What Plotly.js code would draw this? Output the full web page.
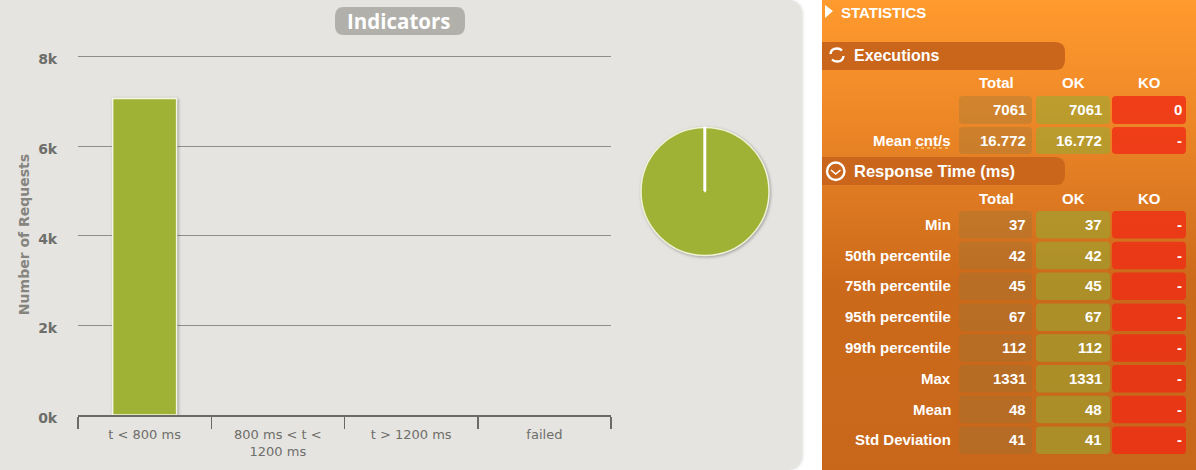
<!DOCTYPE html>
<html><head><meta charset="utf-8">
<script src="https://cdn.plot.ly/plotly-3.0.1.min.js"></script>
<style>
html,body{margin:0;padding:0;width:1196px;height:470px;overflow:hidden;background:#fff}
#left{position:absolute;left:0;top:0;width:802px;height:470px;background:#e5e4e0;border-radius:0 14px 14px 0;box-shadow:1px 0 3px rgba(0,0,0,.12)}
#right{position:absolute;left:822px;top:0;width:374px;height:470px;background:linear-gradient(#ff9a2e 0,#f08a28 22%,#cc6a1b 60%,#c8661a 100%)}
#chart{position:absolute;left:0;top:0;width:1196px;height:470px}
.barlayer .point path{filter:drop-shadow(1.5px 1.5px 1.5px rgba(0,0,0,.35))}
.pielayer .trace{filter:drop-shadow(1.5px 1.5px 1.5px rgba(0,0,0,.3))}
</style></head><body>
<div id="left"></div><div id="right"></div><div id="chart"></div>
<script>
const W=1196,H=470;
const categories=['t < 800 ms','800 ms < t <<br>1200 ms','t > 1200 ms','failed'];
const requests=[7061,0,0,0];
const yTicks=[0,2000,4000,6000,8000];
const yTickLabels=['0k','2k','4k','6k','8k'];
const pieLabels=['t < 800 ms','800 ms < t < 1200 ms','t > 1200 ms','failed'];
const columns=['Total','OK','KO'];
const execLabels=['','Mean cnt/s'];
const execTotal=['7061','16.772'];
const execOK=['7061','16.772'];
const execKO=['0','-'];
const timeLabels=['Min','50th percentile','75th percentile','95th percentile','99th percentile','Max','Mean','Std Deviation'];
const timeTotal=['37','42','45','67','112','1331','48','41'];
const timeOK=['37','42','45','67','112','1331','48','41'];
const timeKO=['-','-','-','-','-','-','-','-'];

const fx=x=>x/W, fy=y=>1-y/H;
const P=(x,y)=>fx(x)+' '+fy(y);
function rr(x0,y0,x1,y1,r){return 'M'+P(x0+r,y0)+' L'+P(x1-r,y0)+' Q'+P(x1,y0)+' '+P(x1,y0+r)+' L'+P(x1,y1-r)+' Q'+P(x1,y1)+' '+P(x1-r,y1)+' L'+P(x0+r,y1)+' Q'+P(x0,y1)+' '+P(x0,y1-r)+' L'+P(x0,y0+r)+' Q'+P(x0,y0)+' '+P(x0+r,y0)+' Z';}
function rightPill(x0,y0,x1,y1,r){return 'M'+P(x0,y0)+' L'+P(x1-r,y0)+' Q'+P(x1,y0)+' '+P(x1,y0+r)+' L'+P(x1,y1-r)+' Q'+P(x1,y1)+' '+P(x1-r,y1)+' L'+P(x0,y1)+' Z';}
const shapes=[],ann=[];
const base={xref:'paper',yref:'paper'};
const fillShape=(path,color)=>shapes.push({...base,type:'path',path,fillcolor:color,line:{width:0},layer:'below'});
const text=(x,y,t,size,anchor,color,family)=>ann.push({...base,x:fx(x),y:fy(y),text:t,showarrow:false,xanchor:anchor,yanchor:'middle',borderpad:0,font:{size,color:color||'#fff',family:family||'"Liberation Sans",Arial,sans-serif'}});

/* title pill */
fillShape(rr(335,7,465,35,9),'#b1b0aa');
text(399,21,'<b>Indicators</b>',20.5,'center','#fff','"Open Sans",sans-serif');

/* statistics panel */
shapes.push({...base,type:'path',path:'M'+P(825,5)+' L'+P(833,11)+' L'+P(825,18)+' Z',fillcolor:'#fff',line:{width:0}});
text(840,12,'<b>STATISTICS</b>',15,'left');
fillShape(rightPill(822,42,1065,70,10),'#c9661b');
fillShape(rightPill(822,157,1065,185,10),'#c9661b');
text(853,55.5,'<b>Executions</b>',16,'left');
text(853,171,'<b>Response Time (ms)</b>',16.5,'left');

/* executions icon */
shapes.push({...base,type:'path',path:'M'+P(830.5,54)+' Q'+P(831,48.5)+' '+P(837,48.5)+' Q'+P(840,48.5)+' '+P(842,50.5),line:{color:'#fff',width:2.4},fillcolor:'rgba(0,0,0,0)'});
shapes.push({...base,type:'path',path:'M'+P(843.5,56)+' Q'+P(843,61.5)+' '+P(837,61.5)+' Q'+P(834,61.5)+' '+P(832,59.5),line:{color:'#fff',width:2.4},fillcolor:'rgba(0,0,0,0)'});
/* clock icon */
shapes.push({...base,type:'circle',x0:fx(827),x1:fx(844.5),y0:fy(162.5),y1:fy(180),line:{color:'#fff',width:2.4},fillcolor:'rgba(0,0,0,0)'});
shapes.push({...base,type:'path',path:'M'+P(831,170)+' L'+P(835.7,174)+' L'+P(840.5,170),line:{color:'#fff',width:1.6},fillcolor:'rgba(0,0,0,0)'});
/* dotted underline below cnt/s */
shapes.push({...base,type:'line',x0:fx(915),x1:fx(951),y0:fy(148),y1:fy(148),line:{color:'#ffe9a0',width:1,dash:'dot'}});

const colX=[[959,1032],[1036,1110],[1112,1186]];
const colRight=[1027,1103,1183];
const colHead=[996,1073,1149];
const colFill=['rgba(140,120,60,.30)','rgba(150,170,50,.58)','rgba(240,42,20,.78)'];
function header(y){columns.forEach((c,i)=>text(colHead[i],y,'<b>'+c+'</b>',15,'center'));}
function row(y0,y1,label,vals){
  vals.forEach((v,i)=>{fillShape(rr(colX[i][0],y0,colX[i][1],y1,4),colFill[i]);text(colRight[i],(y0+y1)/2-0.5,'<b>'+v+'</b>',15,'right');});
  if(label)text(951.5,(y0+y1)/2-0.5,'<b>'+label+'</b>',15,'right');
}
header(82.5);
row(96,124,execLabels[0],[execTotal[0],execOK[0],execKO[0]]);
row(127,154,execLabels[1],[execTotal[1],execOK[1],execKO[1]]);
header(198);
timeLabels.forEach((l,i)=>{const y0=211+i*30.8;row(y0,y0+27.5,l,[timeTotal[i],timeOK[i],timeKO[i]]);});

/* seam of the pie at 12 o'clock */
shapes.push({...base,type:'line',x0:fx(704.8),x1:fx(704.8),y0:fy(126.5),y1:fy(191),line:{color:'#fff',width:3}});

const tickFont={family:'"DejaVu Sans",sans-serif',size:13,color:'#6e6e6a'};
const traces=[
 {type:'bar',x:categories,y:requests,marker:{color:'#a0b236',line:{color:'#f4f6e4',width:[1.5,0,0,0]}},hoverinfo:'none',showlegend:false},
 {type:'pie',labels:pieLabels,values:requests,sort:false,textinfo:'none',hoverinfo:'none',showlegend:false,
  marker:{colors:['#a0b236','#f0a030','#e07020','#e03020'],line:{color:'#f0f3d8',width:1.5}},
  domain:{x:[fx(641),fx(769)],y:[fy(256),fy(127)]}}
];
const layout={
 width:W,height:H,margin:{l:0,r:0,t:0,b:0},paper_bgcolor:'rgba(0,0,0,0)',plot_bgcolor:'rgba(0,0,0,0)',
 showlegend:false,bargap:0.52,shapes,annotations:ann,
 xaxis:{domain:[fx(78),fx(611)],type:'category',categoryorder:'array',categoryarray:categories,tickson:'boundaries',ticks:'outside',ticklen:12,tickwidth:1.5,tickcolor:'#6a6a66',showline:true,linecolor:'#6a6a66',linewidth:1.5,showgrid:false,zeroline:false,tickfont:tickFont,ticklabelstandoff:7,tickangle:0,fixedrange:true},
 yaxis:{domain:[fy(415),fy(54)],range:[0,8056],tickvals:yTicks,ticktext:yTickLabels,ticks:'outside',ticklen:17,tickcolor:'rgba(0,0,0,0)',showgrid:true,gridcolor:'#8e8e8a',gridwidth:1,zeroline:false,showline:false,ticklabelshift:3,
  tickfont:{family:'"DejaVu Sans",sans-serif',size:14,color:'#6e6e6a',weight:'bold'},
  title:{text:'<b>Number of Requests</b>',standoff:5,font:{family:'"DejaVu Sans",sans-serif',size:14,color:'#85847f'}},fixedrange:true}
};
Plotly.newPlot('chart',traces,layout,{displayModeBar:false,staticPlot:true});
</script></body></html>
